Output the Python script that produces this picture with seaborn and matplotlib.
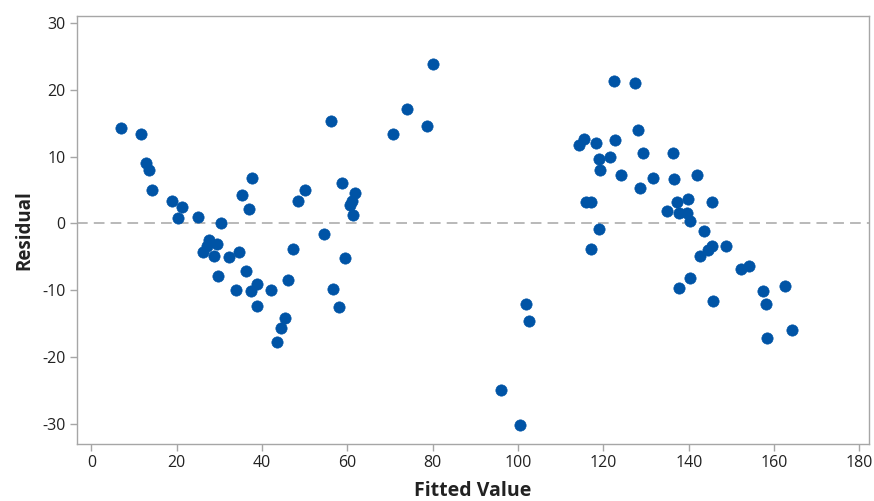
import matplotlib
matplotlib.use("Agg")
import matplotlib.pyplot as plt
import seaborn as sns
import pandas as pd

fitted = [6.9, 11.6, 12.8, 13.5, 14.3, 18.9, 21.2, 20.4, 25.0, 30.3,
          27.6, 29.5, 27.0, 26.2, 28.7, 32.2, 34.5, 29.6, 36.2, 33.8,
          37.3, 38.8, 42.2, 38.8, 46.0, 47.2, 45.3, 44.5, 43.4,
          35.3, 37.7, 37.0, 48.3, 50.0,
          56.1, 58.7, 61.8, 61.0, 60.6, 61.4, 54.5, 59.4, 56.7, 58.0,
          70.7, 74.0, 78.6, 80.1,
          96.0, 100.5, 101.8, 102.6,
          114.3, 115.4, 118.2, 122.4, 127.3, 122.7, 128.1, 129.2, 136.2, 118.9,
          121.6, 119.3, 124.0, 131.6, 136.6, 128.6, 116.0, 117.0, 137.3, 135.0,
          137.8, 118.9, 117.0,
          141.9, 139.8, 145.4, 139.5, 140.3, 143.5, 145.4, 144.5, 142.7, 148.8,
          140.3, 137.7, 145.7, 152.2, 154.2, 157.3, 158.0, 162.5, 158.3, 164.2]
residual = [14.3, 13.4, 9.0, 8.0, 5.0, 3.4, 2.5, 0.8, 1.0, 0.1,
            -2.5, -3.0, -3.4, -4.3, -4.8, -5.0, -4.3, -7.9, -7.1, -9.9,
            -10.1, -9.0, -10.0, -12.3, -8.4, -3.8, -14.1, -15.7, -17.7,
            4.3, 6.8, 2.2, 3.4, 5.0,
            15.3, 6.0, 4.6, 3.4, 2.8, 1.3, -1.6, -5.2, -9.8, -12.5,
            13.4, 17.1, 14.6, 23.8,
            -24.9, -30.1, -12.0, -14.6,
            11.8, 12.7, 12.0, 21.3, 21.0, 12.5, 14.0, 10.5, 10.5, 9.6,
            10.0, 8.0, 7.3, 6.8, 6.6, 5.3, 3.2, 3.2, 3.2, 1.8,
            1.5, -0.9, -3.8,
            7.3, 3.7, 3.2, 1.6, 0.3, -1.2, -3.3, -4.0, -4.8, -3.3,
            -8.1, -9.6, -11.6, -6.8, -6.4, -10.1, -12.0, -9.3, -17.1, -15.9]

x_ticks = [0, 20, 40, 60, 80, 100, 120, 140, 160, 180]
y_ticks = [-30, -20, -10, 0, 10, 20, 30]

df = pd.DataFrame({"Fitted Value": fitted, "Residual": residual})

sns.set_theme(style="white")
plt.rcParams['font.family'] = ['Open Sans', 'DejaVu Sans']

fig = plt.figure(figsize=(8.74, 5.01), dpi=100)
ax = fig.add_axes([0.088, 0.1138, 0.9066, 0.855])

spine_c = "#A6A6A6"
ax.axhline(0, color=spine_c, lw=1.1, ls=(0, (7, 4)), zorder=1)

sns.scatterplot(data=df, x="Fitted Value", y="Residual", ax=ax,
                color="#0054A6", s=66, edgecolor="#0054A6", linewidth=0.5,
                marker="o", zorder=3)

ax.set_xlim(-3.4, 182.3)
ax.set_ylim(-33.0, 31.1)
ax.set_xticks(x_ticks)
ax.set_yticks(y_ticks)
ax.set_xticklabels([str(v) for v in x_ticks])
ax.set_yticklabels([str(v) for v in y_ticks])

for sp in ax.spines.values():
    sp.set_visible(True)
    sp.set_color(spine_c)
    sp.set_linewidth(1.0)

ax.tick_params(axis="both", which="major", direction="out", length=5,
               width=1, color=spine_c, labelsize=11.5, labelcolor="#222222",
               pad=3, bottom=True, left=True)

ax.set_xlabel("Fitted Value", fontsize=14, fontweight="bold",
              color="#222222", labelpad=7)
ax.set_ylabel("Residual", fontsize=13.5, fontweight="bold",
              color="#222222", labelpad=6)

fig.savefig("out.png", dpi=100)
